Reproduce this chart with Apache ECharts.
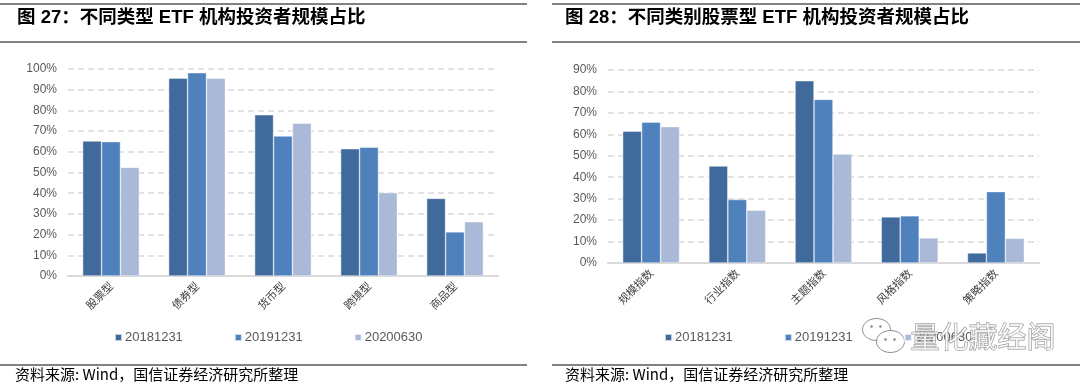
<!DOCTYPE html>
<html><head><meta charset="utf-8">
<script src="https://cdn.jsdelivr.net/npm/echarts@6/dist/echarts.min.js"></script>
<style>html,body{margin:0;padding:0;background:#fff}#c{width:1080px;height:387px}</style>
</head><body><div id="c"></div>
<script>
const seriesNames = ['20181231', '20191231', '20200630'];
const leftCategories = ['股票型', '债券型', '货币型', '跨境型', '商品型'];
const left2018 = [65.2, 95.6, 77.9, 61.5, 37.5];
const left2019 = [64.9, 98.2, 67.6, 62.2, 21.3];
const left2020 = [52.5, 95.5, 73.8, 40.3, 26.2];
const rightCategories = ['规模指数', '行业指数', '主题指数', '风格指数', '策略指数'];
const right2018 = [61.5, 45.2, 85.0, 21.5, 4.7];
const right2019 = [65.7, 29.6, 76.3, 22.0, 33.3];
const right2020 = [63.6, 24.6, 50.8, 11.7, 11.5];
const leftTicks = [0, 10, 20, 30, 40, 50, 60, 70, 80, 90, 100];
const rightTicks = [0, 10, 20, 30, 40, 50, 60, 70, 80, 90];

const colors = ['#416A9C', '#4F81BD', '#AAB9D7'];
const FONT = '"Liberation Sans", "Noto Sans CJK SC", sans-serif';
const CJK = '"Noto Sans CJK SC", "Liberation Sans", sans-serif';

const chart = echarts.init(document.getElementById('c'), null, {renderer: 'canvas'});

function yAxis(idx, ticks) {
  return {
    type: 'value', gridIndex: idx, min: ticks[0], max: ticks[ticks.length - 1], interval: 10,
    axisLine: {show: false}, axisTick: {show: false},
    axisLabel: {formatter: v => v + '%', color: '#595959', fontSize: 12, fontFamily: FONT, margin: 11},
    splitLine: {lineStyle: {color: '#D9D9D9', type: [6, 4], width: 1.5}}
  };
}
function xAxis(idx, cats) {
  return {
    type: 'category', gridIndex: idx, data: cats,
    axisLine: {lineStyle: {color: '#D9D9D9', width: 2}}, axisTick: {show: false},
    axisLabel: {rotate: 45, color: '#404040', fontSize: 11, fontFamily: CJK, margin: 8, interval: 0}
  };
}
function bars(idx, arrs) {
  return arrs.map((d, i) => ({
    name: seriesNames[i], type: 'bar', xAxisIndex: idx, yAxisIndex: idx, data: d,
    barGap: '0%', barCategoryGap: '34%',
    itemStyle: {color: colors[i], borderColor: 'rgba(255,255,255,0.7)', borderWidth: 0.6},
    emphasis: {disabled: true}
  }));
}
function legend(left) {
  return {
    data: seriesNames, left: left, top: 331, padding: 0, itemWidth: 7, itemHeight: 7, itemGap: 51, icon: 'rect',
    textStyle: {color: '#595959', fontSize: 13, fontFamily: FONT, padding: [0, 0, 0, -2]},
    selectedMode: false
  };
}

chart.setOption({
  animation: false,
  color: colors,
  title: [
    {text: '图 27：不同类型 ETF 机构投资者规模占比', left: 17, top: 9, padding: 0,
     textStyle: {fontSize: 18.5, fontWeight: 'bold', color: '#000', fontFamily: FONT}},
    {text: '图 28：不同类别股票型 ETF 机构投资者规模占比', left: 565, top: 9, padding: 0,
     textStyle: {fontSize: 18.5, fontWeight: 'bold', color: '#000', fontFamily: FONT}}
  ],
  legend: [legend(114), legend(664)],
  grid: [
    {left: 68, width: 430, top: 69, height: 207},
    {left: 608, width: 431, top: 70, height: 193}
  ],
  xAxis: [xAxis(0, leftCategories), xAxis(1, rightCategories)],
  yAxis: [yAxis(0, leftTicks), yAxis(1, rightTicks)],
  series: [...bars(0, [left2018, left2019, left2020]), ...bars(1, [right2018, right2019, right2020])],
  graphic: [
    {type: 'line', shape: {x1: 0, y1: 4, x2: 527, y2: 4}, style: {stroke: '#595959', lineWidth: 1.5}},
    {type: 'line', shape: {x1: 0, y1: 42, x2: 527, y2: 42}, style: {stroke: '#595959', lineWidth: 1.5}},
    {type: 'line', shape: {x1: 552, y1: 4, x2: 1080, y2: 4}, style: {stroke: '#595959', lineWidth: 1.5}},
    {type: 'line', shape: {x1: 552, y1: 42, x2: 1080, y2: 42}, style: {stroke: '#595959', lineWidth: 1.5}},
    {type: 'line', shape: {x1: 0, y1: 365, x2: 527, y2: 365}, style: {stroke: '#595959', lineWidth: 1.5}},
    {type: 'line', shape: {x1: 552, y1: 365, x2: 1080, y2: 365}, style: {stroke: '#595959', lineWidth: 1.5}},
    {type: 'text', left: 15, top: 367, style: {text: '资料来源: Wind，国信证券经济研究所整理', fill: '#000', font: '15px ' + CJK}},
    {type: 'text', left: 565, top: 367, style: {text: '资料来源: Wind，国信证券经济研究所整理', fill: '#000', font: '15px ' + CJK}},
    // watermark
    {type: 'group', left: 862, top: 318, z: 100, children: [
      {type: 'ellipse', shape: {cx: 14, cy: 12, rx: 14, ry: 11}, style: {fill: 'rgba(255,255,255,0.85)', stroke: '#8a8a8a', lineWidth: 1}},
      {type: 'ellipse', shape: {cx: 28, cy: 24, rx: 14, ry: 11}, style: {fill: 'rgba(255,255,255,0.9)', stroke: '#8a8a8a', lineWidth: 1}},
      {type: 'circle', shape: {cx: 9, cy: 9, r: 1.3}, style: {fill: '#8a8a8a'}},
      {type: 'circle', shape: {cx: 18, cy: 9, r: 1.3}, style: {fill: '#8a8a8a'}},
      {type: 'circle', shape: {cx: 23, cy: 22, r: 1.3}, style: {fill: '#8a8a8a'}},
      {type: 'circle', shape: {cx: 32, cy: 22, r: 1.3}, style: {fill: '#8a8a8a'}}
    ]},
    {type: 'text', left: 910, top: 322, z: 100, style: {text: '量化藏经阁', font: '29px ' + CJK, fill: 'rgba(255,255,255,0.75)', stroke: '#8a8a8a', lineWidth: 1}}
  ]
});
</script></body></html>
